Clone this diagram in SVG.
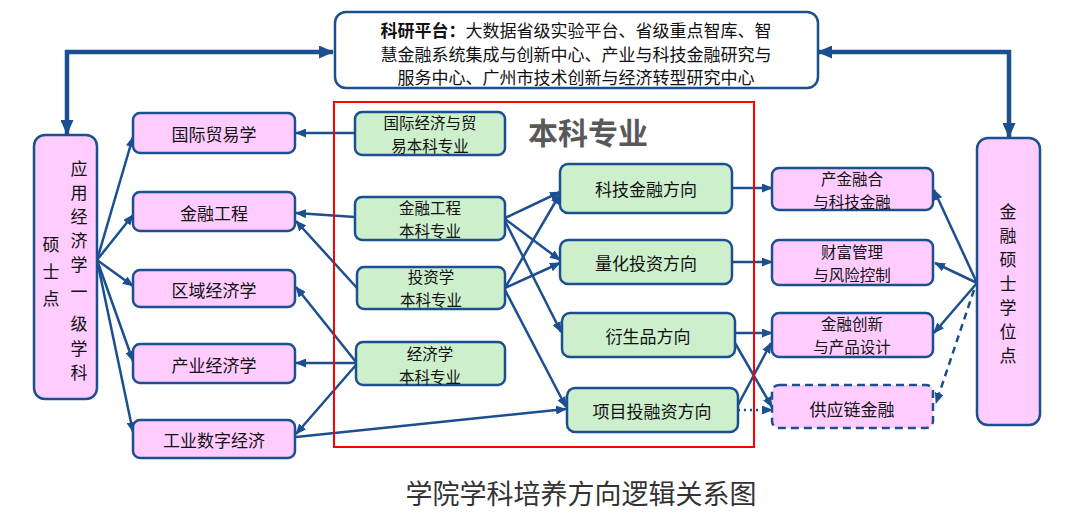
<svg xmlns="http://www.w3.org/2000/svg" width="1080" height="519" viewBox="0 0 1080 519">
<defs>
<marker id="a" markerUnits="userSpaceOnUse" markerWidth="11" markerHeight="9" refX="10" refY="4.5" orient="auto-start-reverse"><path d="M0,0 L11,4.5 L0,9 z" fill="#1B4F8F"/></marker>
<marker id="b" markerUnits="userSpaceOnUse" markerWidth="15" markerHeight="13" refX="14" refY="6.5" orient="auto-start-reverse"><path d="M0,0 L15,6.5 L0,13 z" fill="#1B4F8F"/></marker>
<style>
.pk{fill:#FFCCFF;stroke:#1B4F8F;stroke-width:2.5}
.gr{fill:#CDEFCB;stroke:#1B4F8F;stroke-width:2.5}
.t{font-family:"Noto Sans CJK SC","Liberation Sans",sans-serif;font-size:17px;fill:#111;text-anchor:middle;dominant-baseline:central}
.t2{font-size:15.5px}
.c line,.c path{stroke:#1B4F8F;stroke-width:2.5;fill:none;marker-end:url(#a)}
</style>
</defs>
<rect width="1080" height="519" fill="#fff"/>

<g id="connectors" class="c">
<path d="M333,52 H67 V134" style="stroke-width:4.5;marker-start:url(#b);marker-end:url(#b)"/>
<path d="M818,52 H1009 V137" style="stroke-width:4.5;marker-start:url(#b);marker-end:url(#b)"/>
<line x1="97" y1="260" x2="133" y2="137"/>
<line x1="97" y1="260" x2="133" y2="215"/>
<line x1="97" y1="260" x2="133" y2="286"/>
<line x1="97" y1="260" x2="133" y2="361"/>
<line x1="97" y1="260" x2="133" y2="432"/>
<line x1="355" y1="133" x2="296" y2="133"/>
<line x1="355" y1="217" x2="296" y2="213"/>
<line x1="357" y1="288" x2="296" y2="221"/>
<line x1="356" y1="362" x2="296" y2="287"/>
<line x1="356" y1="363" x2="296" y2="363"/>
<line x1="356" y1="365" x2="296" y2="434"/>
<line x1="296" y1="437" x2="566" y2="409"/>
<line x1="505" y1="218" x2="560" y2="192"/>
<line x1="505" y1="219" x2="560" y2="260"/>
<line x1="505" y1="221" x2="561" y2="332"/>
<line x1="505" y1="288" x2="560" y2="194"/>
<line x1="505" y1="288" x2="560" y2="263"/>
<line x1="505" y1="290" x2="566" y2="407"/>
<line x1="732" y1="188" x2="772" y2="188"/>
<line x1="732" y1="262" x2="772" y2="262"/>
<line x1="735" y1="333" x2="772" y2="333"/>
<line x1="735" y1="343" x2="772" y2="407"/>
<line x1="738" y1="405" x2="771" y2="343"/>
<line x1="738" y1="410" x2="772" y2="410" style="stroke-dasharray:2 4"/>
<line x1="977" y1="283" x2="934" y2="190"/>
<line x1="977" y1="283" x2="935" y2="263"/>
<line x1="977" y1="283" x2="934" y2="333"/>
<line x1="974" y1="290" x2="936" y2="403" style="stroke-dasharray:7 5"/>
</g>

<rect x="334" y="102" width="420" height="345" fill="none" stroke="#FF0000" stroke-width="2"/>
<text x="588" y="131" style="font-family:'Noto Sans CJK SC','Liberation Sans',sans-serif;font-size:30px;font-weight:bold;fill:#595959;text-anchor:middle;dominant-baseline:central">本科专业</text>

<g id="platform">
<rect x="335" y="12" width="483" height="76" rx="11" fill="#fff" stroke="#1B4F8F" stroke-width="2.5"/>
<text class="t" x="576" y="29"><tspan font-weight="bold">科研平台：</tspan>大数据省级实验平台、省级重点智库、智</text>
<text class="t" x="576" y="53">慧金融系统集成与创新中心、产业与科技金融研究与</text>
<text class="t" x="576" y="76">服务中心、广州市技术创新与经济转型研究中心</text>
</g>

<g id="master-econ">
<rect class="pk" x="34" y="135" width="63" height="264" rx="11"/>
<text class="t" x="79" y="167">应</text><text class="t" x="79" y="191">用</text><text class="t" x="79" y="215">经</text><text class="t" x="79" y="239">济</text><text class="t" x="79" y="263">学</text><text class="t" x="79" y="290">一</text><text class="t" x="79" y="322">级</text><text class="t" x="79" y="347">学</text><text class="t" x="79" y="371">科</text>
<text class="t" x="51" y="243">硕</text><text class="t" x="51" y="270">士</text><text class="t" x="51" y="297">点</text>
</g>

<g id="guojimaoyi"><rect class="pk" x="133" y="113" width="162" height="40" rx="7"/><text class="t" x="214" y="133">国际贸易学</text></g>
<g id="jinronggongcheng"><rect class="pk" x="133" y="192" width="162" height="39" rx="7"/><text class="t" x="214" y="212">金融工程</text></g>
<g id="quyu"><rect class="pk" x="133" y="270" width="162" height="37" rx="7"/><text class="t" x="214" y="289">区域经济学</text></g>
<g id="chanye"><rect class="pk" x="133" y="344" width="162" height="39" rx="7"/><text class="t" x="214" y="364">产业经济学</text></g>
<g id="gongye"><rect class="pk" x="133" y="420" width="162" height="38" rx="7"/><text class="t" x="214" y="439">工业数字经济</text></g>

<g id="u-guomao"><rect class="gr" x="355" y="112" width="150" height="43" rx="7"/><text class="t t2" x="430" y="122">国际经济与贸</text><text class="t t2" x="430" y="145">易本科专业</text></g>
<g id="u-jingong"><rect class="gr" x="355" y="197" width="150" height="43" rx="7"/><text class="t t2" x="430" y="207">金融工程</text><text class="t t2" x="430" y="230">本科专业</text></g>
<g id="u-touzi"><rect class="gr" x="357" y="267" width="148" height="42" rx="7"/><text class="t t2" x="431" y="276">投资学</text><text class="t t2" x="431" y="299">本科专业</text></g>
<g id="u-jingji"><rect class="gr" x="356" y="342" width="149" height="43" rx="7"/><text class="t t2" x="430" y="353">经济学</text><text class="t t2" x="430" y="376">本科专业</text></g>

<g id="d-keji"><rect class="gr" x="560" y="164" width="172" height="49" rx="8"/><text class="t" x="646" y="188">科技金融方向</text></g>
<g id="d-lianghua"><rect class="gr" x="560" y="240" width="172" height="44" rx="8"/><text class="t" x="646" y="262">量化投资方向</text></g>
<g id="d-yansheng"><rect class="gr" x="562" y="313" width="173" height="44" rx="8"/><text class="t" x="648" y="335">衍生品方向</text></g>
<g id="d-xiangmu"><rect class="gr" x="567" y="388" width="171" height="44" rx="8"/><text class="t" x="652" y="410">项目投融资方向</text></g>

<g id="r-chanjin"><rect class="pk" x="772" y="168" width="161" height="42" rx="7"/><text class="t t2" x="852" y="178">产金融合</text><text class="t t2" x="852" y="201">与科技金融</text></g>
<g id="r-caifu"><rect class="pk" x="772" y="240" width="161" height="45" rx="7"/><text class="t t2" x="852" y="251">财富管理</text><text class="t t2" x="852" y="274">与风险控制</text></g>
<g id="r-chuangxin"><rect class="pk" x="772" y="313" width="161" height="44" rx="7"/><text class="t t2" x="852" y="323">金融创新</text><text class="t t2" x="852" y="346">与产品设计</text></g>
<g id="r-gongying"><rect class="pk" x="772" y="385" width="161" height="43" rx="7" stroke-dasharray="8 5"/><text class="t" x="852" y="408">供应链金融</text></g>

<g id="master-fin">
<rect class="pk" x="977" y="138" width="63" height="287" rx="11"/>
<text class="t" x="1008" y="210">金</text><text class="t" x="1008" y="234">融</text><text class="t" x="1008" y="258">硕</text><text class="t" x="1008" y="282">士</text><text class="t" x="1008" y="306">学</text><text class="t" x="1008" y="330">位</text><text class="t" x="1008" y="354">点</text>
</g>

<text x="581" y="492" style="font-family:'Noto Sans CJK SC','Liberation Sans',sans-serif;font-size:27px;fill:#333;text-anchor:middle;dominant-baseline:central">学院学科培养方向逻辑关系图</text>
</svg>
